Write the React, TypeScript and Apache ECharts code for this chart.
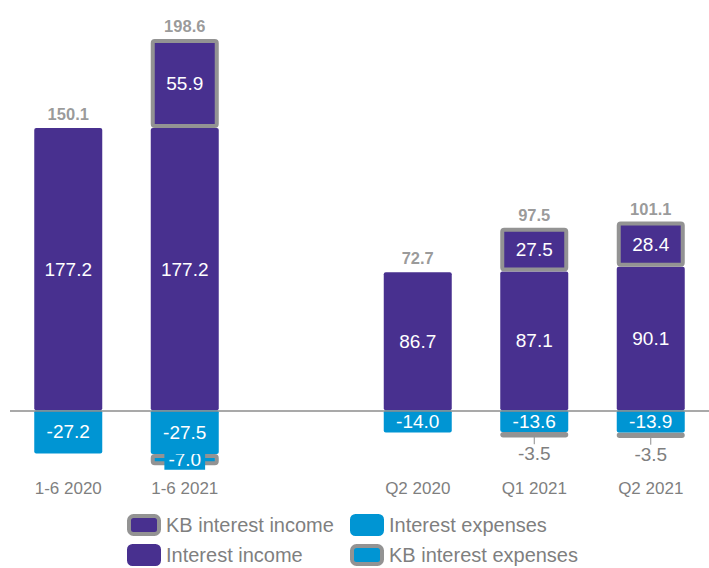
import React, { useEffect, useRef } from "react";
import * as echarts from "echarts";

const categories = ["1-6 2020", "1-6 2021", "", "Q2 2020", "Q1 2021", "Q2 2021"];
const interestIncome = [177.2, 177.2, null, 86.7, 87.1, 90.1];
const kbInterestIncome = [null, 55.9, null, null, 27.5, 28.4];
const interestExpenses = [-27.2, -27.5, null, -14.0, -13.6, -13.9];
const kbInterestExpenses = [null, -7.0, null, null, -3.5, -3.5];
const netTotals = [150.1, 198.6, null, 72.7, 97.5, 101.1];

const PURPLE = "#48308F";
const BLUE = "#0095D3";
const BORDER = "#939393";
const GREY_TEXT = "#7F7F7F";
const FONT = "Liberation Sans, Arial, sans-serif";

export default function App() {
  const ref = useRef<HTMLDivElement>(null);
  useEffect(() => {
    if (!ref.current) return;
    const chart = echarts.init(ref.current, null, { renderer: "svg" });
    const fmt = (p: any) => (p.value == null ? "" : Number(p.value).toFixed(1));
    const totalPos = interestIncome.map((v, i) =>
      v == null
        ? null
        : {
            value: v + (kbInterestIncome[i] ?? 0),
            label: { distance: kbInterestIncome[i] != null ? 4 : 5 },
          }
    );
    const innerLabel = { show: true, position: "inside", color: "#fff", fontSize: 19, fontFamily: FONT, formatter: fmt };
    const legendItem = (name: string, left: number, top: number, itemStyle: any, bordered: boolean) => ({
      left, top, padding: 0, orient: "vertical",
      itemWidth: bordered ? 30 : 34, itemHeight: bordered ? 18 : 22,
      icon: "roundRect",
      textStyle: { color: GREY_TEXT, fontSize: 20, fontFamily: FONT, lineHeight: 22, padding: [0, 0, 0, bordered ? 2 : 0] },
      data: [{ name, itemStyle }],
    });
    chart.setOption({
      animation: false,
      textStyle: { fontFamily: FONT },
      grid: { left: 10, top: 28, width: 705, height: 446, containLabel: false },
      xAxis: {
        type: "category",
        data: categories,
        axisLine: { show: false, onZero: false },
        axisTick: { show: false },
        axisLabel: { color: GREY_TEXT, fontSize: 17, margin: 6, fontFamily: FONT },
      },
      yAxis: { type: "value", min: -40, max: 240, show: false, splitLine: { show: false } },
      legend: [
        legendItem("KB interest income", 127, 514, { color: PURPLE, borderColor: BORDER, borderWidth: 4 }, true),
        legendItem("Interest income", 127, 544, { color: PURPLE, borderWidth: 0 }, false),
        legendItem("Interest expenses", 350, 514, { color: BLUE, borderWidth: 0 }, false),
        legendItem("KB interest expenses", 350, 544, { color: BLUE, borderColor: BORDER, borderWidth: 4 }, true),
      ],
      series: [
        {
          name: "Interest income",
          type: "bar",
          stack: "total",
          barWidth: 68,
          data: interestIncome,
          itemStyle: { color: PURPLE, borderRadius: 2 },
          label: innerLabel,
          markLine: {
            silent: true,
            symbol: "none",
            label: { show: false },
            lineStyle: { color: "#8C8C8C", width: 1.5, type: "solid" },
            data: [{ yAxis: 0 }],
          },
        },
        {
          name: "KB interest income",
          type: "bar",
          stack: "total",
          barWidth: 68,
          data: kbInterestIncome,
          itemStyle: { color: PURPLE, borderColor: BORDER, borderWidth: 4, borderRadius: 2 },
          label: innerLabel,
        },
        {
          name: "Interest expenses",
          type: "bar",
          stack: "total",
          barWidth: 68,
          data: interestExpenses,
          itemStyle: { color: BLUE, borderRadius: 2 },
          label: innerLabel,
        },
        {
          name: "KB interest expenses",
          type: "bar",
          stack: "total",
          barWidth: 68,
          z: 1,
          data: kbInterestExpenses.map((v, i) =>
            v == null
              ? null
              : i === 1
              ? {
                  value: v,
                  label: {
                    show: true, position: "inside", color: "#fff", fontSize: 19,
                    backgroundColor: BLUE, padding: [1, 4, 0, 4],
                  },
                }
              : {
                  value: v,
                  label: { show: true, position: "inside", color: GREY_TEXT, fontSize: 19 },
                  labelLine: { show: true, lineStyle: { color: "#8C8C8C", width: 1 } },
                }
          ),
          labelLayout: (p: any) => (p.dataIndex === 1 ? {} : { dy: 19 }),
          itemStyle: { color: BLUE, borderColor: BORDER, borderWidth: 4, borderRadius: 2 },
          label: { show: true, fontFamily: FONT, formatter: fmt },
        },
        {
          name: "Total",
          type: "scatter",
          symbol: "rect",
          symbolSize: 1,
          silent: true,
          itemStyle: { color: "rgba(0,0,0,0)" },
          data: totalPos,
          label: {
            show: true,
            position: "top",
            distance: 5,
            color: GREY_TEXT,
            fontSize: 16.5,
            fontWeight: "bold",
            fontFamily: FONT,
            formatter: (p: any) => {
              const t = netTotals[p.dataIndex];
              return t == null ? "" : t.toFixed(1);
            },
          },
        },
      ],
    });
    return () => chart.dispose();
  }, []);
  return (
    <div
      ref={ref}
      style={{ position: "absolute", left: 0, top: 0, width: 709, height: 568, background: "#fff" }}
    />
  );
}
